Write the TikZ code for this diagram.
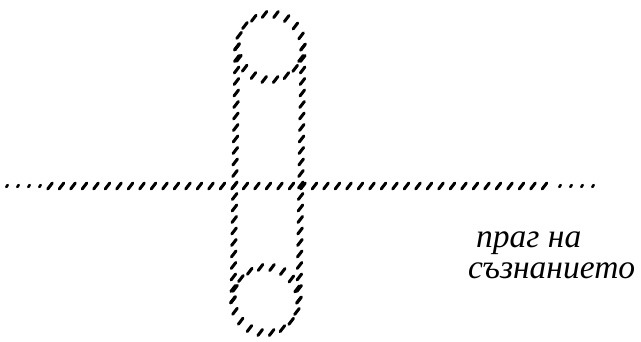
\documentclass[tikz,border=0pt]{standalone}
\usepackage{fontspec}
\setmainfont{Liberation Serif}
\usetikzlibrary{decorations.markings}

\begin{document}
\begin{tikzpicture}[
  x=1pt, y=-1pt,
  pen/.style={decoration={markings,
      mark=between positions 0 and 1 step 11.5pt with {\pgftransformresetnontranslations
        \draw[black, line width=3pt, line cap=round] (-2.3pt,-3pt) -- (2.3pt,3pt);}},
    postaction={decorate}},
  penthin/.style={decoration={markings,
      mark=between positions 0 and 1 step 11pt with {\pgftransformresetnontranslations
        \draw[black, line width=2.6pt, line cap=round] (-0.7pt,-1pt) -- (0.7pt,1pt);}},
    postaction={decorate}},
  lbl/.style={font=\fontsize{33.5}{31}\selectfont\itshape, inner sep=0pt, align=left},
]
\useasboundingbox (0,0) rectangle (641,342);
% ---------- threshold ----------
\path[penthin] (7,186) -- (40,186);
\path[pen] (50,186) -- (550,186);
\path[penthin] (560,186) -- (597,186);
% ---------- loop ----------
\path[pen] (237,47) arc[start angle=180, end angle=-180, radius=33];
\path[pen] (237,47) -- (233,300);
\path[pen] (303,47) -- (299,300);
\path[pen] (233,300) arc[start angle=180, end angle=-180, radius=33];
% ---------- label ----------
\node[lbl, anchor=base west] (thr) at (468,279) {\hspace*{8pt}праг на\\съзнанието};
\end{tikzpicture}
\end{document}
